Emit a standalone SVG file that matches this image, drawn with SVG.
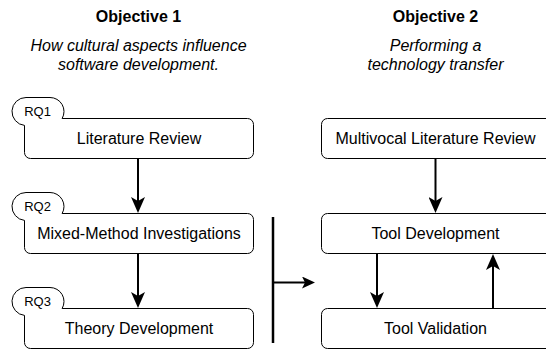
<svg xmlns="http://www.w3.org/2000/svg" width="546" height="350" viewBox="0 0 546 350">
  <style>
    text { font-family: "Liberation Sans", Arial, Helvetica, sans-serif; fill: #000; }
    .title { font-size: 16px; font-weight: bold; text-anchor: middle; }
    .sub { font-size: 16px; font-style: italic; text-anchor: middle; }
    .lbl { font-size: 16px; text-anchor: middle; }
    .rq { font-size: 13px; text-anchor: middle; }
    .box { fill: #fff; stroke: #000; stroke-width: 1; }
    .pillfill { fill: #fff; stroke: none; }
    .pill { fill: none; stroke: #000; stroke-width: 1; }
    .edge { fill: none; stroke: #000; stroke-width: 2; }
  </style>
  <defs>
    <marker id="arrow" viewBox="0 -7 16 14" markerWidth="16" markerHeight="14" markerUnits="userSpaceOnUse" refX="4" refY="0" orient="auto">
      <path d="M0,-7 L16,0 L0,7 L4,0 Z" fill="#000"/>
    </marker>
    <marker id="arrow-sm" viewBox="0 -6 13 12" markerWidth="13" markerHeight="12" markerUnits="userSpaceOnUse" refX="3" refY="0" orient="auto">
      <path d="M0,-6 L13,0 L0,6 L3,0 Z" fill="#000"/>
    </marker>
  </defs>

  <!-- column headings -->
  <g id="objective1">
    <text class="title" x="138.5" y="21.5">Objective 1</text>
    <text class="sub" x="138.5" y="51">How cultural aspects influence</text>
    <text class="sub" x="138.5" y="70">software development.</text>
  </g>
  <g id="objective2">
    <text class="title" x="435.5" y="21.5">Objective 2</text>
    <text class="sub" x="435.5" y="51">Performing a</text>
    <text class="sub" x="435.5" y="70">technology transfer</text>
  </g>

  <!-- left column: research questions -->
  <g id="literature-review">
    <rect class="box" x="24.5" y="118.5" width="229" height="40" rx="6"/>
    <rect class="pillfill" x="12" y="97.5" width="52" height="28" rx="14"/>
    <path class="pill" d="M24.5,125.42 A14,14 0 0 1 26,97.5 L50,97.5 A14,14 0 0 1 62.12,118.5"/>
    <text class="rq" x="37.5" y="116">RQ1</text>
    <text class="lbl" x="139" y="144">Literature Review</text>
  </g>
  <g id="mixed-method">
    <rect class="box" x="24.5" y="213.5" width="229" height="40" rx="6"/>
    <rect class="pillfill" x="12" y="192.5" width="52" height="28" rx="14"/>
    <path class="pill" d="M24.5,220.42 A14,14 0 0 1 26,192.5 L50,192.5 A14,14 0 0 1 62.12,213.5"/>
    <text class="rq" x="37.5" y="211">RQ2</text>
    <text class="lbl" x="139" y="239">Mixed-Method Investigations</text>
  </g>
  <g id="theory-development">
    <rect class="box" x="24.5" y="308.5" width="229" height="40" rx="6"/>
    <rect class="pillfill" x="12" y="287.5" width="52" height="28" rx="14"/>
    <path class="pill" d="M24.5,315.42 A14,14 0 0 1 26,287.5 L50,287.5 A14,14 0 0 1 62.12,308.5"/>
    <text class="rq" x="37.5" y="306">RQ3</text>
    <text class="lbl" x="139" y="334">Theory Development</text>
  </g>

  <!-- right column: technology transfer -->
  <g id="multivocal-review">
    <rect class="box" x="321.5" y="118.5" width="240" height="40" rx="6"/>
    <text class="lbl" x="435.5" y="144">Multivocal Literature Review</text>
  </g>
  <g id="tool-development">
    <rect class="box" x="321.5" y="213.5" width="240" height="40" rx="6"/>
    <text class="lbl" x="435.5" y="239">Tool Development</text>
  </g>
  <g id="tool-validation">
    <rect class="box" x="321.5" y="308.5" width="240" height="40" rx="6"/>
    <text class="lbl" x="435.5" y="334">Tool Validation</text>
  </g>

  <!-- connectors -->
  <g id="connectors">
    <line class="edge" x1="138" y1="158.5" x2="138" y2="201" marker-end="url(#arrow)"/>
    <line class="edge" x1="138" y1="253.5" x2="138" y2="296" marker-end="url(#arrow)"/>
    <line class="edge" x1="435.5" y1="158.5" x2="435.5" y2="201" marker-end="url(#arrow)"/>
    <line class="edge" x1="377" y1="253.5" x2="377" y2="296" marker-end="url(#arrow)"/>
    <line class="edge" x1="493" y1="308.5" x2="493" y2="266" marker-end="url(#arrow)"/>
    <line x1="273" y1="217" x2="273" y2="343" stroke="#000" stroke-width="2.5"/>
    <line class="edge" x1="273" y1="282.5" x2="305" y2="282.5" marker-end="url(#arrow-sm)"/>
  </g>
</svg>
